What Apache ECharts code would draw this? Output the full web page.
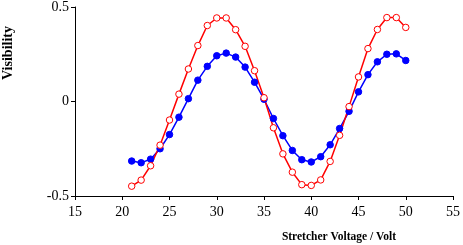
<!DOCTYPE html>
<html>
<head>
<meta charset="utf-8">
<script src="https://cdn.jsdelivr.net/npm/echarts@6/dist/echarts.min.js"></script>
<style>html,body{margin:0;padding:0;background:#fff}#c{width:463px;height:245px}</style>
</head>
<body>
<div id="c"></div>
<script>
var voltages = [21,22,23,24,25,26,27,28,29,30,31,32,33,34,35,36,37,38,39,40,41,42,43,44,45,46,47,48,49,50];
var blueVis = [-0.315,-0.324,-0.305,-0.25,-0.175,-0.083,0.015,0.113,0.186,0.242,0.256,0.235,0.182,0.102,0.012,-0.09,-0.181,-0.259,-0.308,-0.32,-0.292,-0.229,-0.143,-0.052,0.051,0.142,0.21,0.25,0.252,0.217];
var redVis = [-0.448,-0.416,-0.34,-0.231,-0.098,0.039,0.172,0.296,0.402,0.442,0.442,0.38,0.292,0.163,0.02,-0.139,-0.277,-0.374,-0.44,-0.444,-0.415,-0.317,-0.179,-0.027,0.13,0.28,0.381,0.444,0.444,0.392];
var xTicks = [15,20,25,30,35,40,45,50,55];
var yTicks = [-0.5,0,0.5];
var xTitle = 'Stretcher Voltage / Volt';
var yTitle = 'Visibility';

function pairs(xs, ys){ return xs.map(function(x,i){return [x, ys[i]];}); }
var serif = '"Liberation Serif","DejaVu Serif",serif';
var chart = echarts.init(document.getElementById('c'), null, {renderer:'canvas'});
chart.setOption({
  animation:false,
  backgroundColor:'#fff',
  grid:{left:75, right:7, top:5, bottom:49},
  xAxis:{type:'value', min:xTicks[0], max:xTicks[xTicks.length-1], interval:5,
    axisLine:{onZero:false, lineStyle:{color:'#000', width:1}},
    axisTick:{show:true, length:4, lineStyle:{color:'#000'}},
    axisLabel:{color:'#000', fontFamily:serif, fontSize:14, margin:9},
    splitLine:{show:false}},
  yAxis:{type:'value', min:yTicks[0], max:yTicks[yTicks.length-1], interval:0.5,
    axisLine:{show:true, onZero:false, lineStyle:{color:'#000', width:1}},
    axisTick:{show:true, length:4, lineStyle:{color:'#000'}},
    axisLabel:{color:'#000', fontFamily:serif, fontSize:14, margin:6,
      formatter:function(v){return String(v);}},
    splitLine:{show:false}},
  graphic:[
    {type:'text', x:1, y:53, rotation:Math.PI/2,
      style:{text:yTitle, fill:'#000', font:'bold 14px '+serif, textAlign:'center', textVerticalAlign:'top'}},
    {type:'text', x:339, y:237,
      style:{text:xTitle, fill:'#000', font:'bold 11.5px '+serif, textAlign:'center', textVerticalAlign:'middle'}}
  ],
  series:[
    {type:'line', data:pairs(voltages, blueVis), symbol:'circle', symbolSize:6.5,
      lineStyle:{color:'#0000ff', width:1.5}, itemStyle:{color:'#0000ff', borderColor:'#0000ff', borderWidth:1}},
    {type:'line', data:pairs(voltages, redVis), symbol:'circle', symbolSize:6.5,
      lineStyle:{color:'#ff0000', width:1.5}, itemStyle:{color:'#fff', borderColor:'#ff0000', borderWidth:1}}
  ]
});
</script>
</body>
</html>
